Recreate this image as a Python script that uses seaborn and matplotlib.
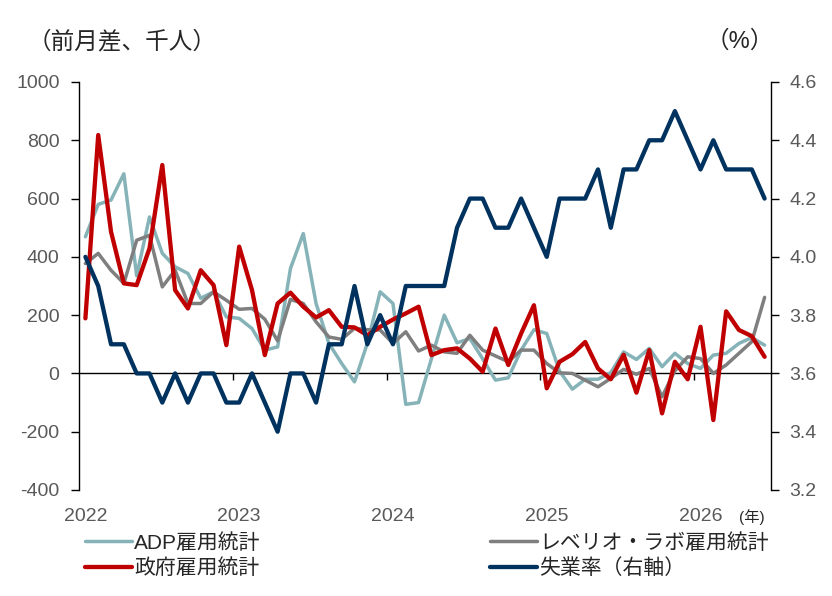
import numpy as np
import pandas as pd
import matplotlib
matplotlib.use("Agg")
import matplotlib.pyplot as plt
import seaborn as sns
from matplotlib.lines import Line2D

# ---- data (monthly, Jan 2022 - Jun 2026) ----
year_labels = ["2022", "2023", "2024", "2025", "2026"]
adp = [469, 580, 595, 685, 335, 537, 412, 366, 343, 258, 280, 194,
       189, 154, 80, 91, 360, 480, 240, 103, 34, -29, 103, 280,
       240, -106, -100, 50, 200, 105, 120, 50, -23, -15, 80, 150,
       137, 8, -54, -20, -20, 3, 74, 48, 86, 23, 69, 34,
       17, 63, 69, 103, 123, 97]
gov = [189, 818, 486, 309, 303, 429, 715, 286, 223, 354, 303, 97,
       435, 286, 63, 240, 277, 229, 192, 217, 160, 158, 131, 160,
       185, 206, 229, 63, 80, 86, 51, 6, 154, 29, 137, 234,
       -51, 40, 66, 108, 17, -20, 64, -66, 80, -137, 40, -20,
       160, -160, 213, 149, 128, 57]
revelio = [377, 412, 354, 309, 457, 474, 297, 354, 240, 240, 280, 251,
           220, 223, 186, 112, 254, 240, 177, 125, 117, 155, 150, 149,
           103, 143, 77, 97, 74, 69, 131, 80, 60, 40, 80, 80,
           34, 2, 0, -23, -46, -17, 14, -3, 17, -80, 9, 57,
           51, 0, 29, 69, 109, 261]
unemp = [4.0, 3.9, 3.7, 3.7, 3.6, 3.6, 3.5, 3.6, 3.5, 3.6, 3.6, 3.5,
         3.5, 3.6, 3.5, 3.4, 3.6, 3.6, 3.5, 3.7, 3.7, 3.9, 3.7, 3.8,
         3.7, 3.9, 3.9, 3.9, 3.9, 4.1, 4.2, 4.2, 4.1, 4.1, 4.2, 4.1,
         4.0, 4.2, 4.2, 4.2, 4.3, 4.1, 4.3, 4.3, 4.4, 4.4, 4.5, 4.4,
         4.3, 4.4, 4.3, 4.3, 4.3, 4.2]
names = ["ADP雇用統計", "政府雇用統計", "レベリオ・ラボ雇用統計", "失業率（右軸）"]
colors = {"adp": "#86B3B8", "gov": "#C00000", "rev": "#7F7F7F", "unemp": "#00325F"}

df = pd.DataFrame({"m": np.arange(len(adp)), "adp": adp, "gov": gov,
                   "rev": revelio, "unemp": unemp})

sns.set_theme(style="white")
plt.rcParams["font.family"] = ["Liberation Sans", "Noto Sans CJK JP"]
plt.rcParams["axes.unicode_minus"] = False

W, H = 832, 596
fig = plt.figure(figsize=(W / 100, H / 100), dpi=100)
L, R, T, B = 79, 771, 82, 490
ax = fig.add_axes([L / W, 1 - B / H, (R - L) / W, (B - T) / H])

sns.lineplot(data=df, x="m", y="adp", ax=ax, color=colors["adp"], lw=2.5, zorder=2)
sns.lineplot(data=df, x="m", y="rev", ax=ax, color=colors["rev"], lw=2.5, zorder=3)
sns.lineplot(data=df, x="m", y="gov", ax=ax, color=colors["gov"], lw=3.1, zorder=4)

n = len(adp)
ax.set_xlim(-0.5, n - 0.5)
ax.set_ylim(-400, 1000)
ax.set_yticks(np.arange(-400, 1001, 200))
ax.set_xticks(np.arange(0, n, 12), labels=year_labels)
ax.set_xlabel("")
ax.set_ylabel("")
for s in ["top", "right", "bottom"]:
    ax.spines[s].set_visible(False)
ax.spines["left"].set_color("black")
ax.spines["left"].set_linewidth(1.0)
ax.tick_params(axis="y", direction="out", length=6, width=1, color="black",
               labelcolor="#595959", labelsize=14, pad=8, left=True)
ax.tick_params(axis="x", length=0, labelcolor="#595959", labelsize=14, pad=13)

# zero line with year-boundary ticks
secax = ax.secondary_xaxis(400 / 1400)
secax.set_xticks(np.arange(11.5, n - 1, 12), labels=[])
secax.tick_params(direction="out", length=5, width=1, color="black")
for s in secax.spines.values():
    s.set_color("black")
    s.set_linewidth(1.0)

ax2 = ax.twinx()
sns.lineplot(data=df, x="m", y="unemp", ax=ax2, color=colors["unemp"], lw=3.1, zorder=5)
ax2.set_ylim(3.2, 4.6)
ax2.set_yticks(np.round(np.arange(3.2, 4.61, 0.2), 1))
ax2.yaxis.set_major_formatter(matplotlib.ticker.FormatStrFormatter("%.1f"))
ax2.set_ylabel("")
for s in ["top", "left", "bottom"]:
    ax2.spines[s].set_visible(False)
ax2.spines["right"].set_color("black")
ax2.spines["right"].set_linewidth(1.0)
ax2.tick_params(axis="y", direction="out", length=6, width=1, color="black",
                labelcolor="#595959", labelsize=14, pad=7, right=True)
ax2.grid(False)
ax.grid(False)

fig.text(28 / W, 1 - 42 / H, "（前月差、千人）", fontsize=17, ha="left", va="center")
fig.text(740 / W, 1 - 42 / H, "（%）", fontsize=17, ha="center", va="center")
fig.text(752 / W, 1 - 517 / H, "(年)", fontsize=11, ha="center", va="center")

def handle(c, lw):
    return Line2D([], [], color=c, lw=lw)

leg_kw = dict(frameon=False, fontsize=15, handlelength=2.25, handletextpad=0.12,
              labelspacing=0.28, borderpad=0, borderaxespad=0, loc="upper left")
fig.legend([handle(colors["adp"], 2.5), handle(colors["gov"], 3.1)],
           [names[0], names[1]], bbox_to_anchor=(85 / W, 1 - 533 / H), **leg_kw)
fig.legend([handle(colors["rev"], 2.5), handle(colors["unemp"], 3.1)],
           [names[2], names[3]], bbox_to_anchor=(490 / W, 1 - 533 / H), **leg_kw)

fig.savefig("out.png", dpi=100)
